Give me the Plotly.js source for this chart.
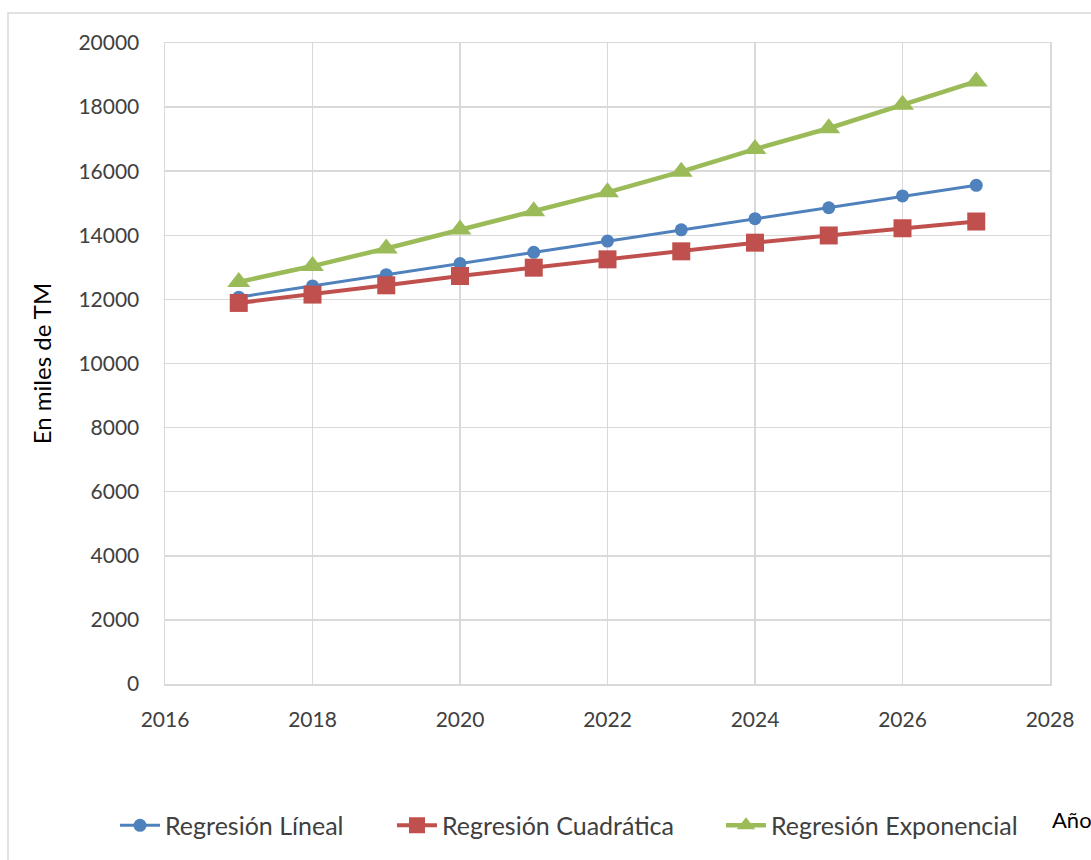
<!DOCTYPE html>
<html>
<head>
<meta charset="utf-8">
<script src="https://cdn.plot.ly/plotly-3.0.1.min.js"></script>
<style>html,body{margin:0;padding:0;background:#fff;}#chart{width:1091px;height:860px;}</style>
</head>
<body>
<div id="chart"></div>
<script>
var years = [2017, 2018, 2019, 2020, 2021, 2022, 2023, 2024, 2025, 2026, 2027];
var regLineal = [12070, 12420, 12770, 13120, 13470, 13820, 14170, 14520, 14860, 15230, 15560];
var regCuadratica = [11890, 12150, 12440, 12730, 12990, 13250, 13500, 13770, 13995, 14220, 14430];
var regExponencial = [12545, 13040, 13590, 14180, 14750, 15340, 15985, 16690, 17340, 18070, 18800];
var xTicks = [2016, 2018, 2020, 2022, 2024, 2026, 2028];
var yTicks = [0, 2000, 4000, 6000, 8000, 10000, 12000, 14000, 16000, 18000, 20000];

var font = "Lato, 'Open Sans', sans-serif";
var traces = [
  {x: years, y: regLineal, name: 'Regresión Líneal', mode: 'lines+markers', legend: 'legend',
   line: {color: '#4f81bd', width: 3}, marker: {symbol: 'circle', size: 13, color: '#4f81bd'}},
  {x: years, y: regCuadratica, name: 'Regresión Cuadrática', mode: 'lines+markers', legend: 'legend2',
   line: {color: '#c0504d', width: 4}, marker: {symbol: 'square', size: 18, color: '#c0504d'}},
  {x: years, y: regExponencial, name: 'Regresión Exponencial', mode: 'lines+markers', legend: 'legend3',
   line: {color: '#9bbb59', width: 4.5}, marker: {symbol: 'triangle-up', size: 20, color: '#9bbb59'}}
];

function leg(px) {
  return {orientation: 'h', x: (px - 165) / 885, xanchor: 'left', y: (686 - 828) / 643, yanchor: 'middle',
          font: {family: font, size: 25, color: '#404040'}, itemwidth: 40,
          bgcolor: 'rgba(0,0,0,0)', borderwidth: 0};
}

var layout = {
  width: 1091, height: 860,
  margin: {l: 165, r: 41, t: 43, b: 174},
  paper_bgcolor: '#ffffff', plot_bgcolor: '#ffffff',
  font: {family: font, size: 20, color: '#404040'},
  showlegend: true,
  legend: leg(115),
  legend2: leg(392),
  legend3: leg(721),
  xaxis: {range: [2016, 2028], tickvals: xTicks, ticktext: xTicks.map(String),
          showgrid: true, gridcolor: '#d9d9d9', gridwidth: 1.5, zeroline: false,
          showline: true, linecolor: '#d9d9d9', linewidth: 1.5, mirror: true,
          ticks: '', ticklabelstandoff: 16, tickfont: {family: font, size: 21, color: '#404040'}},
  yaxis: {range: [0, 20000], tickvals: yTicks, ticktext: yTicks.map(String),
          showgrid: true, gridcolor: '#d9d9d9', gridwidth: 1.5, zeroline: false,
          showline: true, linecolor: '#d9d9d9', linewidth: 1.5, mirror: true,
          ticks: '', ticklabelstandoff: 20,
          tickfont: {family: font, size: 21, color: '#404040'},
          title: {text: 'En miles de TM', font: {family: font, size: 24, color: '#000000'}, standoff: 20}},
  annotations: [
    {text: 'Años', xref: 'paper', yref: 'paper', x: (1050 - 165) / 885, y: (686 - 822) / 643,
     xanchor: 'left', yanchor: 'middle', showarrow: false,
     font: {family: font, size: 22, color: '#000000'}}
  ],
  shapes: [
    {type: 'rect', xref: 'paper', yref: 'paper', x0: (8 - 165) / 885, x1: (1100 - 165) / 885,
     y0: (686 - 870) / 643, y1: (686 - 13) / 643, line: {color: '#d9d9d9', width: 1.5},
     fillcolor: 'rgba(0,0,0,0)', layer: 'below'}
  ]
};

Plotly.newPlot('chart', traces, layout, {displayModeBar: false, staticPlot: true});
</script>
</body>
</html>
